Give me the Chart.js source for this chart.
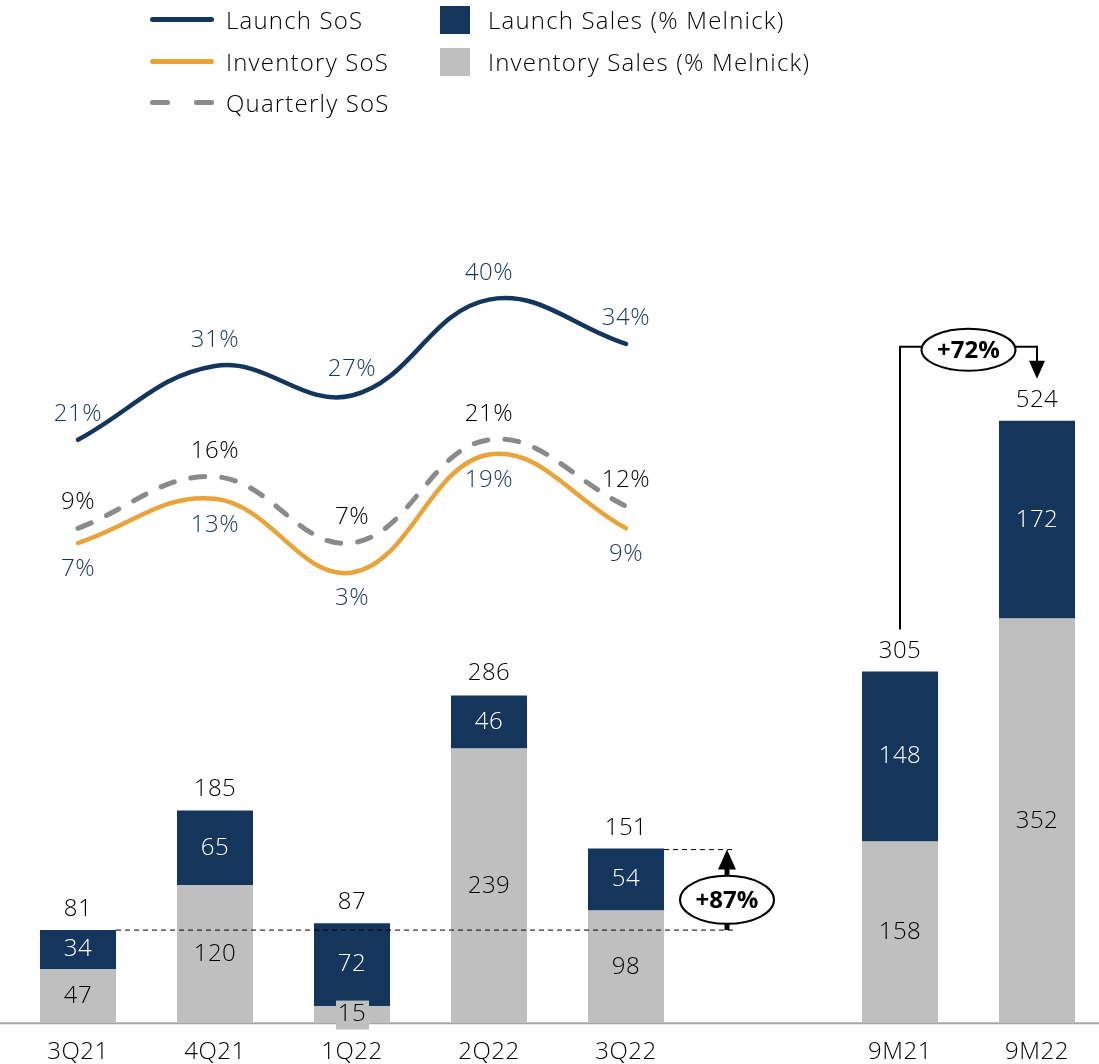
<!DOCTYPE html>
<html>
<head>
<meta charset="utf-8">
<script src="https://cdn.jsdelivr.net/npm/chart.js@4.4.1/dist/chart.umd.min.js"></script>
<style>
  html, body { margin: 0; padding: 0; background: #fff; overflow: hidden; width: 1099px; height: 1064px; }
  body { font-family: 'Open Sans', sans-serif; position: relative; }
  #wrap { position: absolute; left: 0; top: 0; width: 1110px; height: 1078px; }
  .lg { position: absolute; font-size: 24px; font-weight: 300; letter-spacing: 1.2px; color: #000; line-height: 28px; white-space: nowrap; }
  .ln { position: absolute; width: 64px; height: 5px; border-radius: 3px; }
  .sq { position: absolute; width: 30px; height: 28px; }
</style>
</head>
<body>
<div id="wrap"><canvas id="chart"></canvas></div>

<!-- leyenda -->
<div class="ln" style="left:150px;top:17px;background:#14365d"></div>
<div class="lg" style="left:226px;top:6px">Launch SoS</div>
<div class="ln" style="left:150px;top:59px;background:#e8a43a"></div>
<div class="lg" style="left:226px;top:48px">Inventory SoS</div>
<div class="ln" style="left:150px;top:100px;width:20px;background:#8a8a8a"></div>
<div class="ln" style="left:194px;top:100px;width:20px;background:#8a8a8a"></div>
<div class="lg" style="left:226px;top:89px">Quarterly SoS</div>
<div class="sq" style="left:440px;top:6px;background:#14365d"></div>
<div class="lg" style="left:488px;top:6px">Launch Sales (% Melnick)</div>
<div class="sq" style="left:440px;top:48px;background:#bfbfbf"></div>
<div class="lg" style="left:488px;top:48px">Inventory Sales (% Melnick)</div>

<script>
const categorias = ['3Q21', '4Q21', '1Q22', '2Q22', '3Q22', '', '9M21', '9M22'];
const ventasInventario = [47, 120, 15, 239, 98, null, 158, 352];
const ventasLanzamiento = [34, 65, 72, 46, 54, null, 148, 172];
const totales = [81, 185, 87, 286, 151, null, 305, 524];
const sosLanzamiento = [21, 31, 27, 40, 34, null, null, null];
const sosInventario = [7, 13, 3, 19, 9, null, null, null];
const sosTrimestral = [9, 16, 7, 21, 12, null, null, null];

const AZUL = '#14365d';
const GRIS = '#bfbfbf';
const NARANJA = '#e8a43a';
const GRIS_OSC = '#8a8a8a';
const FUENTE = "'Open Sans', sans-serif";

function fuente(size, weight) {
  return (weight || '300') + ' ' + size + 'px ' + FUENTE;
}

function elipse(ctx, cx, cy, rx, ry, texto) {
  ctx.save();
  ctx.beginPath();
  ctx.ellipse(cx, cy, rx, ry, 0, 0, Math.PI * 2);
  ctx.fillStyle = '#fff';
  ctx.fill();
  ctx.lineWidth = 2;
  ctx.strokeStyle = '#000';
  ctx.stroke();
  ctx.fillStyle = '#000';
  ctx.font = fuente(24, 'bold');
  ctx.letterSpacing = '0px';
  ctx.textAlign = 'center';
  ctx.textBaseline = 'middle';
  ctx.fillText(texto, cx, cy + 1);
  ctx.restore();
}

function flecha(ctx, x, yPunta, dir, ancho, alto) {
  // dir = -1 hacia arriba, 1 hacia abajo
  ctx.beginPath();
  ctx.moveTo(x, yPunta);
  ctx.lineTo(x - ancho / 2, yPunta - dir * alto);
  ctx.lineTo(x + ancho / 2, yPunta - dir * alto);
  ctx.closePath();
  ctx.fillStyle = '#000';
  ctx.fill();
}

// linea base de todo el ancho
const basePlugin = {
  id: 'base',
  beforeDraw(chart) {
    chart.ctx.letterSpacing = '0.5px';
  },
  beforeDatasetsDraw(chart) {
    const ctx = chart.ctx;
    const y0 = chart.scales.y.getPixelForValue(0);
    ctx.save();
    ctx.strokeStyle = '#a6a6a6';
    ctx.lineWidth = 2;
    ctx.beginPath();
    ctx.moveTo(0, y0);
    ctx.lineTo(chart.width, y0);
    ctx.stroke();
    ctx.restore();
  }
};

const etiquetasPlugin = {
  id: 'etiquetas',
  afterDatasetsDraw(chart) {
    const ctx = chart.ctx;
    const sy = chart.scales.y;
    ctx.save();
    ctx.letterSpacing = '0.5px';
    ctx.textAlign = 'center';
    ctx.textBaseline = 'middle';
    ctx.font = fuente(24);

    // segmentos de barras
    [3, 4].forEach(i => {
      const meta = chart.getDatasetMeta(i);
      const datos = chart.data.datasets[i].data;
      meta.data.forEach((el, j) => {
        if (datos[j] == null) return;
        const cy = (el.y + el.base) / 2;
        const alto = Math.abs(el.base - el.y);
        if (alto < 26) {
          ctx.fillStyle = GRIS;
          ctx.fillRect(el.x - 16, cy - 14, 33, 29);
        }
        ctx.fillStyle = i === 4 ? '#fff' : '#000';
        ctx.fillText(datos[j], el.x, cy);
      });
    });

    // totales
    const metaTop = chart.getDatasetMeta(4);
    totales.forEach((t, j) => {
      if (t == null) return;
      ctx.fillStyle = '#000';
      ctx.fillText(t, metaTop.data[j].x, sy.getPixelForValue(t) - 21);
    });

    // etiquetas de lineas
    const conf = [
      { ds: 0, dy: -26, color: AZUL, fondo: false },
      { ds: 1, dy: 26, color: AZUL, fondo: true },
      { ds: 2, dy: -26, color: '#000', fondo: false }
    ];
    conf.forEach(c => {
      const meta = chart.getDatasetMeta(c.ds);
      const datos = chart.data.datasets[c.ds].data;
      meta.data.forEach((el, j) => {
        if (datos[j] == null) return;
        const txt = datos[j] + '%';
        if (c.fondo) {
          const w = ctx.measureText(txt).width;
          ctx.fillStyle = '#fff';
          ctx.fillRect(el.x - w / 2 - 2, el.y + c.dy - 12, w + 4, 24);
        }
        ctx.fillStyle = c.color;
        ctx.fillText(txt, el.x, el.y + c.dy);
      });
    });

    // +87% entre 3Q21 y 3Q22
    const b0 = metaTop.data[0], b4 = metaTop.data[4];
    const yA = sy.getPixelForValue(totales[0]);
    const yB = sy.getPixelForValue(totales[4]);
    const xFin = b4.x + 109;
    const xFl = b4.x + 101;
    ctx.strokeStyle = '#000';
    ctx.lineWidth = 1;
    ctx.setLineDash([5, 4]);
    ctx.beginPath();
    ctx.moveTo(b0.x + b0.width / 2, yA);
    ctx.lineTo(xFin, yA);
    ctx.moveTo(b4.x + b4.width / 2, yB);
    ctx.lineTo(xFin, yB);
    ctx.stroke();
    ctx.setLineDash([]);
    ctx.lineWidth = 5;
    ctx.beginPath();
    ctx.moveTo(xFl, yA);
    ctx.lineTo(xFl, yB + 16);
    ctx.stroke();
    flecha(ctx, xFl, yB, -1, 18, 20);
    elipse(ctx, xFl, (yA + yB) / 2 + 10, 47, 24, '+87%');

    // +72% entre 9M21 y 9M22
    const m1 = metaTop.data[6], m2 = metaTop.data[7];
    const y1 = sy.getPixelForValue(totales[6]);
    const y2 = sy.getPixelForValue(totales[7]);
    const yTope = y2 - 74;
    ctx.lineWidth = 2;
    ctx.beginPath();
    ctx.moveTo(m1.x, y1 - 43);
    ctx.lineTo(m1.x, yTope);
    ctx.lineTo(m2.x, yTope);
    ctx.lineTo(m2.x, y2 - 58);
    ctx.stroke();
    flecha(ctx, m2.x, y2 - 42, 1, 16, 18);
    elipse(ctx, (m1.x + m2.x) / 2, yTope + 3, 47, 21, '+72%');

    ctx.restore();
  }
};

const ctx = document.getElementById('chart').getContext('2d');
new Chart(ctx, {
  data: {
    labels: categorias,
    datasets: [
      {
        type: 'line', label: 'Launch SoS', data: sosLanzamiento, yAxisID: 'y2',
        borderColor: AZUL, borderWidth: 4.5, tension: 0.4, pointRadius: 0,
        borderCapStyle: 'round', spanGaps: false, order: 0
      },
      {
        type: 'line', label: 'Inventory SoS', data: sosInventario, yAxisID: 'y2',
        borderColor: NARANJA, borderWidth: 4.5, tension: 0.4, pointRadius: 0,
        borderCapStyle: 'round', order: 0
      },
      {
        type: 'line', label: 'Quarterly SoS', data: sosTrimestral, yAxisID: 'y2',
        borderColor: GRIS_OSC, borderWidth: 5, tension: 0.4, pointRadius: 0,
        borderDash: [14, 17], borderCapStyle: 'round', order: 0
      },
      {
        type: 'bar', label: 'Inventory Sales (% Melnick)', data: ventasInventario,
        backgroundColor: GRIS, categoryPercentage: 1, barPercentage: 0.555, order: 1
      },
      {
        type: 'bar', label: 'Launch Sales (% Melnick)', data: ventasLanzamiento,
        backgroundColor: AZUL, categoryPercentage: 1, barPercentage: 0.555, order: 1
      }
    ]
  },
  options: {
    responsive: true,
    maintainAspectRatio: false,
    animation: false,
    layout: { padding: { top: 130, left: 9.5, right: 4.5, bottom: 4 } },
    plugins: {
      legend: { display: false },
      tooltip: { enabled: false }
    },
    scales: {
      x: {
        stacked: true,
        grid: { display: false },
        border: { display: false },
        ticks: { color: '#000', font: { family: FUENTE, size: 24, weight: '300' }, padding: 7, maxRotation: 0, autoSkip: false }
      },
      y: { stacked: true, display: false, min: 0, max: 777 },
      y2: { display: false, min: -58.1, max: 63 }
    }
  },
  plugins: [basePlugin, etiquetasPlugin]
});
</script>
</body>
</html>
